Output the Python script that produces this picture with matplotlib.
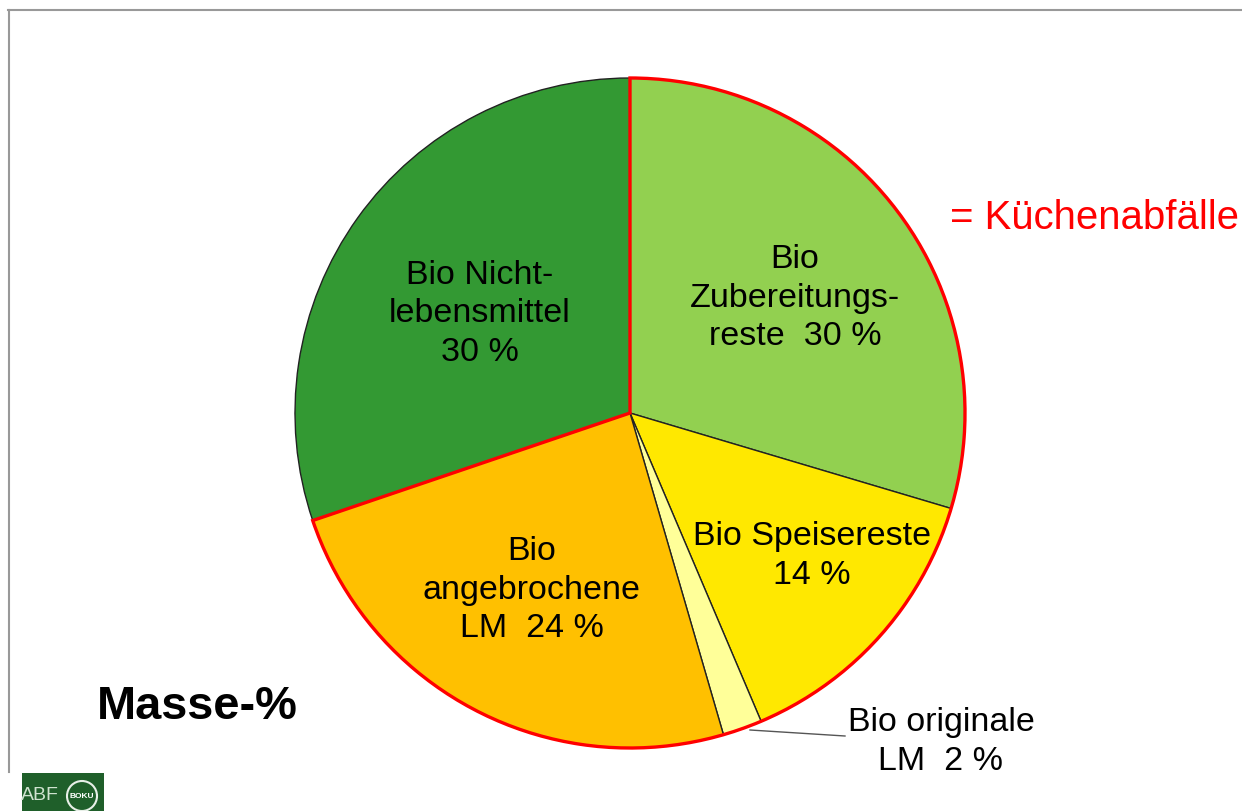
import matplotlib
matplotlib.use("Agg")
import matplotlib.pyplot as plt
from matplotlib.patches import Wedge, Rectangle, Circle
from matplotlib.lines import Line2D

plt.rcParams['font.family'] = ['Liberation Sans', 'DejaVu Sans']

# ---- data ----
categories = ["Bio Zubereitungsreste", "Bio Speisereste", "Bio originale LM",
              "Bio angebrochene LM", "Bio Nicht-lebensmittel"]
values = [29.6, 14.0, 1.9, 24.3, 30.2]
colors = ["#92D050", "#FFE800", "#FFFF99", "#FFC000", "#339933"]
kitchen_group = [True, True, True, True, False]   # = Küchenabfälle
label_texts = ["Bio\nZubereitungs-\nreste  30 %",
               "Bio Speisereste\n14 %",
               "Bio originale\nLM  2 %",
               "Bio\nangebrochene\nLM  24 %",
               "Bio Nicht-\nlebensmittel\n30 %"]

W, H = 1242, 811
fig = plt.figure(figsize=(W / 100, H / 100), dpi=100)
ax = fig.add_axes([0, 0, 1, 1])

def py(y):
    return H - y

cx, cy, R = 630, py(413), 335
wedges, _ = ax.pie(values, colors=colors, startangle=90, counterclock=False,
                   center=(cx, cy), radius=R, frame=True,
                   wedgeprops=dict(edgecolor="#222222", linewidth=1.0))
ax.set_xlim(0, W)
ax.set_ylim(0, H)
ax.set_aspect('equal')
ax.axis('off')

# red outline around Küchenabfälle group
total = sum(values)
grp = sum(v for v, k in zip(values, kitchen_group) if k)
theta_end = 90
theta_start = 90 - 360 * grp / total
ax.add_patch(Wedge((cx, cy), R, theta_start, theta_end, facecolor='none',
                   edgecolor='#FF0000', linewidth=2.4, joinstyle='miter', zorder=5))

# labels
fs = 24.5
pos = [(795, 298), (812, 556), (941, 742), (532, 590), (480, 314)]
for txt, (x, y) in zip(label_texts, pos):
    ax.text(x, py(y), txt, ha='center', va='center', fontsize=fs,
            linespacing=1.32, color='black', zorder=6)

# leader line for small slice
ax.add_line(Line2D([750, 845], [py(730), py(736)], color='#555555', lw=1.0, zorder=6))

ax.text(950, py(218), "= Küchenabfälle", ha='left', va='center', fontsize=28.9,
        color='#FF0000')
ax.text(97, py(707), "Masse-%", ha='left', va='center', fontsize=33.8,
        fontweight='bold', color='black')

# frame lines
ax.add_line(Line2D([8, W], [py(10), py(10)], color='#999999', lw=1.5))
ax.add_line(Line2D([9, 9], [py(10), py(772)], color='#999999', lw=1.5))

# logo
ax.add_patch(Rectangle((22, 0), 82, 38, facecolor='#1F5F2A', edgecolor='none'))
ax.text(40, 15, "ABF", ha='center', va='center', fontsize=14, color='#CFE3CF',
        fontweight='light')
ax.add_patch(Circle((82, 15), 15, facecolor='#1F5F2A', edgecolor='#E8F0E8', lw=1.5))
ax.text(82, 15, "BOKU", ha='center', va='center', fontsize=6, color='white',
        fontweight='bold')

fig.savefig("out.png", dpi=100)
